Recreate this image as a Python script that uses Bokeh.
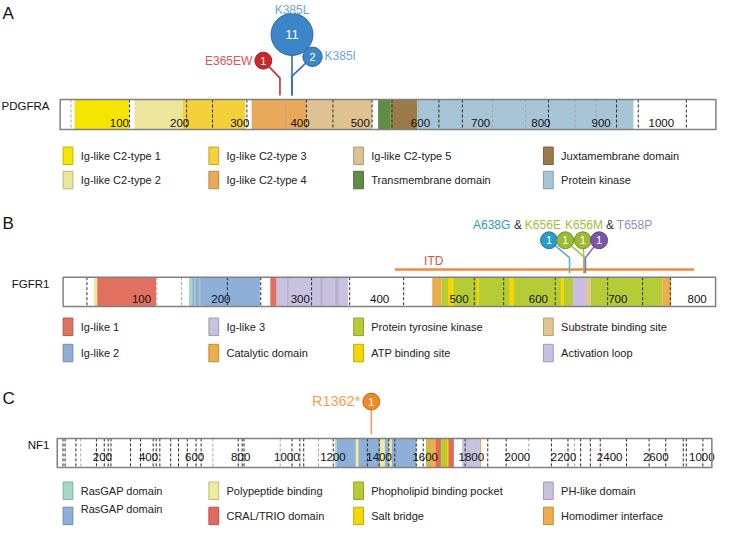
from bokeh.plotting import figure
from bokeh.layouts import column
from bokeh.models import Range1d, ColumnDataSource
from bokeh.core.properties import value
from bokeh.embed import file_html
from bokeh.resources import INLINE

# ======================= DATA =======================
# ---- Panel A: PDGFRA ----
pdgfra_len = 1089
pdgfra_dom_start = [24, 123, 203, 318, 409, 528, 549, 593]
pdgfra_dom_end = [114, 203, 307, 409, 518, 549, 593, 952]
pdgfra_dom_color = ["#F6E500", "#EDE59C", "#F4D03A", "#E9A85A", "#DFC291", "#5F8D45", "#9A7A48", "#A8C5D8"]
pdgfra_ticks = [100, 200, 300, 400, 500, 600, 700, 800, 900, 1000]
pdgfra_tick_labels = ["100", "200", "300", "400", "500", "600", "700", "800", "900", "1000"]
pdgfra_exon_dark = [115, 210, 253, 310, 409, 453, 518, 551, 629, 668, 811, 924, 960, 1040]
pdgfra_exon_gray = [18, 374, 595, 718, 773, 855, 890]
pdgfra_exon_white = [123, 315]
pdgfra_mut_label = ["E365EW", "K385L", "K385I"]
pdgfra_mut_pos = [365, 385, 385]
pdgfra_mut_count = [1, 11, 2]
pdgfra_legend = ["Ig-like C2-type 1", "Ig-like C2-type 2", "Ig-like C2-type 3", "Ig-like C2-type 4",
                 "Ig-like C2-type 5", "Transmembrane domain", "Juxtamembrane domain", "Protein kinase"]
pdgfra_legend_color = ["#F6E500", "#EDE59C", "#F4D03A", "#E9A85A", "#DFC291", "#5F8D45", "#9A7A48", "#A8C5D8"]

# ---- Panel B: FGFR1 ----
fgfr1_len = 822
fgfr1_dom_start = [39, 43, 159, 159, 165, 171, 261, 269, 282, 324, 343, 465, 477, 485, 521, 562, 627, 642, 659, 755]
fgfr1_dom_end = [43, 117, 248, 163, 167, 173, 269, 359, 284, 327, 347, 477, 755, 492, 524, 568, 631, 659, 665, 766]
fgfr1_dom_color = ["#EEE89A", "#E0705F", "#8EB0D8", "#A8D5C8", "#B0C8D0", "#A8C8D0", "#E0705F", "#C9C1E0",
                   "#B8B0D0", "#B8B0D0", "#B8B0D0", "#ECAE4C", "#B6CC36", "#F6D800", "#F6D800", "#F6D800",
                   "#F6D800", "#C9BFE2", "#E2C68F", "#ECAE4C"]
fgfr1_ticks = [100, 200, 300, 400, 500, 600, 700, 800]
fgfr1_tick_labels = ["100", "200", "300", "400", "500", "600", "700", "800"]
fgfr1_exon_dark = [30, 207, 249, 313, 361, 429, 518, 555, 620, 686, 730, 765]
fgfr1_exon_gray = [118, 149]
fgfr1_itd = [418, 795]
fgfr1_mut_label = ["A638G", "K656E", "K656M", "T658P"]
fgfr1_mut_pos = [638, 656, 656, 658]
fgfr1_mut_count = [1, 1, 1, 1]
fgfr1_legend = ["Ig-like 1", "Ig-like 2", "Ig-like 3", "Catalytic domain",
                "Protein tyrosine kinase", "ATP binding site", "Substrate binding site", "Activation loop"]
fgfr1_legend_color = ["#E0705F", "#8EB0D8", "#C9C1E0", "#ECAE4C", "#B6CC36", "#F6D800", "#E2C68F", "#C9BFE2"]

# ---- Panel C: NF1 ----
nf1_len = 2839
nf1_dom_start = [1205, 1213, 1294, 1400, 1438, 1600, 1600, 1613, 1663, 1689, 1756, 1833]
nf1_dom_end = [1213, 1557, 1307, 1421, 1451, 1720, 1613, 1642, 1689, 1697, 1833, 1838]
nf1_dom_color = ["#A6D8C8", "#8EB0D8", "#EFEBA0", "#EFEBA0", "#EFEBA0", "#E06A5E", "#B6CC36", "#ECAE4C",
                 "#B6CC36", "#F6D800", "#C9C1E0", "#ECAE4C"]
nf1_ticks = [200, 400, 600, 800, 1000, 1200, 1400, 1600, 1800, 2000, 2200, 2400, 2600, 2800]
nf1_tick_labels = ["200", "400", "600", "800", "1000", "1200", "1400", "1600", "1800", "2000",
                   "2200", "2400", "2600", "1000"]
nf1_exon_dark = [25, 34, 81, 170, 204, 221, 233, 318, 361, 416, 429, 445, 492, 526, 564, 602, 624, 785,
                 802, 810, 1018, 1052, 1069, 1197, 1345, 1396, 1438, 1464, 1557, 1587, 1769, 1867, 1947,
                 2143, 2215, 2270, 2312, 2355, 2469, 2567, 2639, 2715, 2728, 2800]
nf1_exon_gray = [102, 675, 967, 1133, 2045, 2244]
nf1_mut_label = ["R1362*"]
nf1_mut_pos = [1362]
nf1_mut_count = [1]
nf1_legend = ["RasGAP domain", "RasGAP domain", "Polypeptide binding", "CRAL/TRIO domain",
              "Phopholipid binding pocket", "Salt bridge", "PH-like domain", "Homodimer interface"]
nf1_legend_color = ["#A6D8C8", "#8EB0D8", "#EFEBA0", "#E06A5E", "#B6CC36", "#F6D800", "#C9C1E0", "#ECAE4C"]

# ======================= HELPERS =======================
FONT = value("Liberation Sans")
REF_W = 737
W = 721


def darker(h, f=0.72):
    h = h.lstrip("#")
    r, g, b = (int(h[i:i + 2], 16) for i in (0, 2, 4))
    return "#%02x%02x%02x" % (int(r * f), int(g * f), int(b * f))


def make_fig(h, top, bottom, a, b):
    p = figure(width=W, height=h, x_range=Range1d((0 - a) / b, (REF_W - a) / b),
               y_range=Range1d(bottom, top), toolbar_location=None, output_backend="svg",
               min_border=0, x_axis_location=None, y_axis_location=None,
               outline_line_color=None, background_fill_color="white", border_fill_color="white")
    p.extra_x_ranges = {"px": Range1d(0, REF_W)}
    p.grid.visible = False
    return p


def txt(p, x, y, s, color="#222222", size="12px", align="left", rng="px", **kw):
    p.text(x=x, y=y, text=s, text_color=color, text_font=FONT, text_font_size=size,
           text_align=align, text_baseline="middle", x_range_name=rng, **kw)


def protein(p, name, length, top, bot, starts, ends, colors, ticks, labels, tick_y,
            dark, gray=(), white=()):
    p.quad(left=[0], right=[length], top=[top], bottom=[bot], fill_color="white", line_color=None)
    p.quad(left=starts, right=ends, top=top, bottom=bot, fill_color=colors, line_color=None)
    for ex, col in ((white, "#ffffff"), (gray, "#a5a5a5"), (dark, "#2a2a2a")):
        if len(ex):
            p.segment(x0=ex, y0=top, x1=ex, y1=bot, line_color=col, line_dash="3 2", line_width=1)
    p.text(x=ticks, y=tick_y, text=labels, text_color="#111111", text_font=FONT,
           text_font_size="11.5px", text_align="center", text_baseline="middle", x_offset=-1)
    p.quad(left=[0], right=[length], top=[top], bottom=[bot], fill_color=None,
           line_color="#808080", line_width=1.5)
    txt(p, [50], [top + 7], [name], size="11.5px", align="right", color="#111111")


def legend(p, labels, colors, rows_y, sq_x=(64, 213, 361, 555), gap=18, ydelta=None):
    for i, (lab, col) in enumerate(zip(labels, colors)):
        c, r = divmod(i, 2)
        y = rows_y[r]
        p.quad(left=[sq_x[c]], right=[sq_x[c] + 10], top=[y - 9], bottom=[y + 9],
               fill_color=col, line_color=darker(col, 0.8), line_width=1, x_range_name="px")
        ty = y + (ydelta[i] if ydelta else 0)
        txt(p, [sq_x[c] + gap], [ty], [lab], size="11px", color="#222222")


def lollipops(p, b, pos, counts, fills, stem_cols, circ_dx, circ_y, knee_y, stem_bot):
    cx = [x + dx / b for x, dx in zip(pos, circ_dx)]
    xs = [[x, x, c] for x, c in zip(pos, cx)]
    ys = [[stem_bot, k, cy] for k, cy in zip(knee_y, circ_y)]
    p.multi_line(xs=xs, ys=ys, line_color=stem_cols, line_width=1.6)
    src = ColumnDataSource(dict(
        x=cx, y=circ_y, size=[2 * (7.2 + 1.25 * n) for n in counts], fill=fills,
        line=[darker(f, 0.78) for f in fills], t=[str(n) for n in counts],
        fs=["13px" if n > 9 else "11px" for n in counts]))
    p.scatter(x="x", y="y", size="size", fill_color="fill", line_color="line", line_width=1, source=src)
    p.text(x="x", y="y", text="t", text_color="white", text_font=FONT, text_font_size="fs",
           text_align="center", text_baseline="middle", source=src)
    return cx


# ======================= PANEL A =======================
aA, bA = 61.0, 0.6155
pA = make_fig(197, 0, 203, aA, bA)
txt(pA, [2], [13], ["A"], size="17px", color="#111111")
protein(pA, "PDGFRA", pdgfra_len, 102, 133, pdgfra_dom_start, pdgfra_dom_end, pdgfra_dom_color,
        pdgfra_ticks, pdgfra_tick_labels, 126, pdgfra_exon_dark, pdgfra_exon_gray, pdgfra_exon_white)
cxA = lollipops(pA, bA, pdgfra_mut_pos, pdgfra_mut_count,
                ["#C8282E", "#3B86C9", "#3B86C9"], ["#C62E34", "#2F6DB5", "#2F6DB5"],
                [-17, 0, 21], [62, 35, 58], [80, 35, 78], 98)
txt(pA, [cxA[0]], [62], [pdgfra_mut_label[0]], color="#E2525A", align="right", rng="default", x_offset=-11)
txt(pA, [cxA[1]], [10], [pdgfra_mut_label[1]], color="#6AA6DD", align="center", rng="default")
txt(pA, [cxA[2]], [57], [pdgfra_mut_label[2]], color="#6AA6DD", align="left", rng="default", x_offset=12)
legend(pA, pdgfra_legend, pdgfra_legend_color, [160, 185])

# ======================= PANEL B =======================
aB, bB = 64.0, 0.8114
pB = make_fig(175, 203, 383, aB, bB)
txt(pB, [2], [230], ["B"], size="17px", color="#111111")
protein(pB, "FGFR1", fgfr1_len, 285, 315, fgfr1_dom_start, fgfr1_dom_end, fgfr1_dom_color,
        fgfr1_ticks, fgfr1_tick_labels, 307, fgfr1_exon_dark, fgfr1_exon_gray)
pB.segment(x0=[fgfr1_itd[0]], y0=[277], x1=[fgfr1_itd[1]], y1=[277], line_color="#F08A3C", line_width=2.5)
txt(pB, [433], [268], ["ITD"], color="#E8503A")
lollipops(pB, bB, fgfr1_mut_pos, fgfr1_mut_count,
          ["#2B9CC4", "#9CBA34", "#9CBA34", "#7E55A6"], ["#5BB0D0", "#A8C050", "#A8C050", "#8C6CC0"],
          [-21, -19, -1, 14], [247, 247, 247, 247], [265, 264, 265, 265], 281)
pieces = [fgfr1_mut_label[0], "&", fgfr1_mut_label[1], fgfr1_mut_label[2], "&", fgfr1_mut_label[3]]
piece_x = [483, 525, 536, 577, 619, 630]
piece_col = ["#3399C0", "#333333", "#A4BC3C", "#A4BC3C", "#333333", "#9B88C8"]
for s, x, c in zip(pieces, piece_x, piece_col):
    txt(pB, [x], [231], [s], color=c)
legend(pB, fgfr1_legend, fgfr1_legend_color, [336, 363])

# ======================= PANEL C =======================
aC, bC = 58.0, 0.2357
pC = make_fig(157, 383, 545, aC, bC)
txt(pC, [2], [410], ["C"], size="17px", color="#111111")
protein(pC, "NF1", nf1_len, 451, 481, nf1_dom_start, nf1_dom_end, nf1_dom_color,
        nf1_ticks, nf1_tick_labels, 470, nf1_exon_dark, nf1_exon_gray)
cxC = lollipops(pC, bC, nf1_mut_pos, nf1_mut_count, ["#F08A24"], ["#F0A060"], [0], [413], [413], 447)
txt(pC, [cxC[0]], [412], [nf1_mut_label[0]], color="#F5A04E", size="14.5px", align="right",
    rng="default", x_offset=-11)
legend(pC, nf1_legend, nf1_legend_color, [505, 531], ydelta=[0, -7, 0, 0, 0, 0, 0, 0])

layout = column(pA, pB, pC, spacing=0)
open("out.html", "w").write(file_html(layout, INLINE))
